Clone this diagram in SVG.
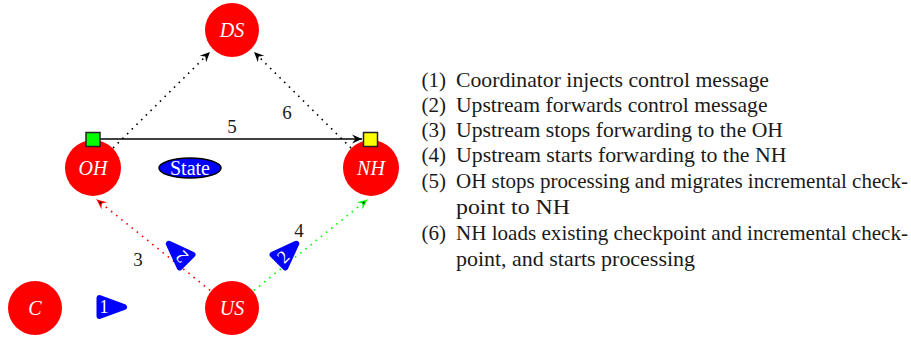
<svg xmlns="http://www.w3.org/2000/svg" width="911" height="339" viewBox="0 0 911 339">
<style>
.node{fill:#ff0000}
.nl{font-family:"Liberation Serif",serif;font-style:italic;font-size:20px;fill:#fff;text-anchor:middle}
.num{font-family:"Liberation Serif",serif;font-size:19px;fill:#1a1a1a;text-anchor:middle}
.tri{fill:#0000ff;stroke:#0000ff;stroke-width:6;stroke-linejoin:round}
.tl{font-family:"Liberation Serif",serif;font-size:18px;fill:#fff;text-anchor:middle}
.leg{font-family:"Liberation Serif",serif;font-size:21px;fill:#1a1a1a}
.dot{fill:none;stroke-width:1.6;stroke-dasharray:1.6 5}
</style>
<defs>
<marker id="stk" viewBox="-11 -5 12 10" refX="0" refY="0" markerWidth="12" markerHeight="10" markerUnits="userSpaceOnUse" orient="auto">
<path d="M0,0 L-10,-4.5 L-6.5,0 L-10,4.5 Z" fill="#000"/>
</marker>
<marker id="stkR" viewBox="-11 -5 12 10" refX="0" refY="0" markerWidth="12" markerHeight="10" markerUnits="userSpaceOnUse" orient="auto">
<path d="M0,0 L-10,-4.5 L-6.5,0 L-10,4.5 Z" fill="#ff0000"/>
<circle cx="-5" cy="0" r="1" fill="#000"/>
</marker>
<marker id="stkG" viewBox="-11 -5 12 10" refX="0" refY="0" markerWidth="12" markerHeight="10" markerUnits="userSpaceOnUse" orient="auto">
<path d="M0,0 L-10,-4.5 L-6.5,0 L-10,4.5 Z" fill="#00ff00"/>
<circle cx="-5" cy="0" r="1" fill="#000"/>
</marker>
</defs>
<rect width="911" height="339" fill="#fff"/>

<g id="DS"><circle class="node" cx="232" cy="30" r="27"/><text class="nl" x="232" y="37">DS</text></g>
<g id="OH"><circle class="node" cx="93" cy="168" r="28"/><text class="nl" x="93" y="175">OH</text></g>
<g id="NH"><circle class="node" cx="371" cy="168" r="28"/><text class="nl" x="371" y="175">NH</text></g>
<g id="C"><circle class="node" cx="35" cy="308" r="27"/><text class="nl" x="35" y="315">C</text></g>
<g id="US"><circle class="node" cx="232" cy="308" r="27"/><text class="nl" x="232" y="315">US</text></g>

<g id="connectors">
<path d="M100,139 H362" stroke="#000" stroke-width="1.6" fill="none" marker-end="url(#stk)"/>
<path class="dot" d="M113,148 L210,52" stroke="#000" marker-end="url(#stk)"/>
<path class="dot" d="M351,148 L254,52" stroke="#000" marker-end="url(#stk)"/>
<path class="dot" d="M210.2,290.4 L96.5,199.5" stroke="#ff0000" marker-end="url(#stkR)"/>
<path class="dot" d="M253.8,290.4 L367.5,199.5" stroke="#00ff00" marker-end="url(#stkG)"/>
<text class="num" x="232" y="133">5</text>
<text class="num" x="287" y="119">6</text>
<text class="num" x="138" y="266">3</text>
<text class="num" x="299" y="237">4</text>
</g>

<g id="OH-marker"><rect x="86" y="132.5" width="14" height="14" fill="#00ff00" stroke="#222" stroke-width="1.5"/></g>
<g id="NH-marker"><rect x="363.5" y="132.5" width="14" height="14" fill="#ffff00" stroke="#222" stroke-width="1.5"/></g>

<g id="State"><ellipse cx="190" cy="168" rx="31" ry="10" fill="#0000ff" stroke="#000" stroke-width="1.5"/><text x="190" y="175" font-family="Liberation Serif, serif" font-size="20" fill="#fff" text-anchor="middle">State</text></g>

<g id="step1" transform="translate(106,307)"><polygon class="tri" points="-6.5,-9 -6.5,9 18,0"/><text class="tl" x="-2" y="6">1</text></g>
<g id="step2a" transform="translate(181.5,256.5) rotate(225)"><polygon class="tri" points="-6.5,-9 -6.5,9 18,0"/><text class="tl" x="-0.5" y="6">2</text></g>
<g id="step2b" transform="translate(283.5,256.5) rotate(-45)"><polygon class="tri" points="-6.5,-9 -6.5,9 18,0"/><text class="tl" x="-0.5" y="6">2</text></g>

<g id="legend" class="leg">
<text x="421.5" y="86.5">(1)</text><text x="456" y="86.5" textLength="313" lengthAdjust="spacingAndGlyphs">Coordinator injects control message</text>
<text x="421.5" y="111.8">(2)</text><text x="456" y="111.8" textLength="311.5" lengthAdjust="spacingAndGlyphs">Upstream forwards control message</text>
<text x="421.5" y="137.1">(3)</text><text x="456" y="137.1" textLength="327" lengthAdjust="spacingAndGlyphs">Upstream stops forwarding to the OH</text>
<text x="421.5" y="162.4">(4)</text><text x="456" y="162.4" textLength="330.5" lengthAdjust="spacingAndGlyphs">Upstream starts forwarding to the NH</text>
<text x="421.5" y="188">(5)</text><text x="456" y="188" textLength="452" lengthAdjust="spacingAndGlyphs">OH stops processing and migrates incremental check-</text>
<text x="456" y="214" textLength="114" lengthAdjust="spacingAndGlyphs">point to NH</text>
<text x="421.5" y="240">(6)</text><text x="456" y="240" textLength="452" lengthAdjust="spacingAndGlyphs">NH loads existing checkpoint and incremental check-</text>
<text x="456" y="266" textLength="239" lengthAdjust="spacingAndGlyphs">point, and starts processing</text>
</g>
</svg>
